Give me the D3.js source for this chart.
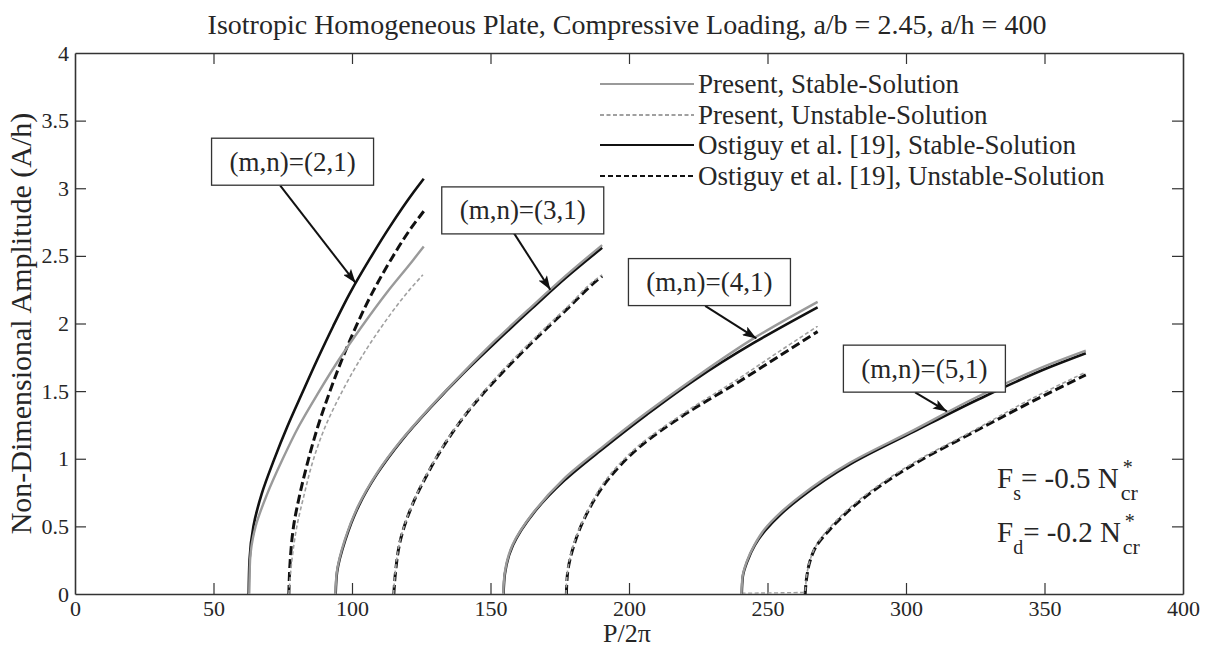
<!DOCTYPE html>
<html><head><meta charset="utf-8">
<script src="https://cdn.jsdelivr.net/npm/d3@7"></script>
<style>
body{margin:0;background:#fff}
svg{display:block}
text{font-family:"Liberation Serif","Times New Roman",serif;fill:#262626}
</style>
</head><body>
<svg id="chart" width="1211" height="650"></svg>
<script>
// ---------------- data ----------------
const titleText = "Isotropic Homogeneous Plate, Compressive Loading, a/b = 2.45, a/h = 400";
const xLabelText = "P/2\u03c0";
const yLabelText = "Non-Dimensional Amplitude (A/h)";
const xTicks = [0, 50, 100, 150, 200, 250, 300, 350, 400];
const yTicks = [0, 0.5, 1, 1.5, 2, 2.5, 3, 3.5, 4];
const yTickLabels = ["0", "0.5", "1", "1.5", "2", "2.5", "3", "3.5", "4"];
const legendNames = ["Present, Stable-Solution", "Present, Unstable-Solution",
  "Ostiguy et al. [19], Stable-Solution", "Ostiguy et al. [19], Unstable-Solution"];

// [P/2pi, A/h] pairs
// mode (2,1)
const presentStable21 = [[62.9,0],[63.2,0.25],[65.2,0.50],[69.4,0.74],[74.8,0.99],[80.8,1.24],[87.6,1.48],[95.2,1.73],[103.6,1.98],[112.6,2.23],[122.1,2.47],[125.9,2.57]];
const presentUnstable21 = [[77.2,0],[78.3,0.25],[80.1,0.50],[82.8,0.74],[86.0,0.99],[90.4,1.24],[96.0,1.48],[102.8,1.73],[110.8,1.98],[120.0,2.23],[125.6,2.36]];
const ostiguyStable21 = [[62.7,0],[63.0,0.25],[64.4,0.50],[67.4,0.74],[71.8,0.99],[76.7,1.24],[81.9,1.48],[87.4,1.73],[93.2,1.98],[99.4,2.23],[106.2,2.47],[113.8,2.72],[122.2,2.97],[125.9,3.07]];
const ostiguyUnstable21 = [[77.2,0],[77.7,0.25],[78.9,0.50],[81.2,0.74],[84.2,0.99],[87.7,1.24],[91.7,1.48],[96.3,1.73],[101.5,1.98],[107.4,2.23],[114.0,2.47],[121.5,2.71],[125.9,2.83]];
// mode (3,1)
const presentStable31 = [[94.0,0],[94.5,0.16],[97.4,0.40],[102.2,0.65],[108.9,0.89],[117.9,1.14],[128.2,1.38],[139.8,1.63],[152.0,1.88],[164.6,2.12],[177.0,2.35],[190.3,2.58]];
const presentUnstable31 = [[115.0,0],[115.6,0.16],[117.4,0.40],[121.5,0.65],[127.1,0.89],[134.3,1.14],[142.9,1.38],[153.3,1.63],[165.3,1.88],[177.6,2.12],[188.3,2.33],[190.3,2.36]];
const ostiguyStable31 = [[94.1,0],[94.6,0.16],[97.6,0.40],[102.4,0.65],[109.1,0.89],[118.1,1.14],[128.4,1.38],[140.1,1.63],[152.3,1.87],[164.9,2.11],[177.3,2.34],[190.3,2.56]];
const ostiguyUnstable31 = [[115.1,0],[115.7,0.16],[117.5,0.40],[121.6,0.65],[127.3,0.89],[134.5,1.14],[143.1,1.38],[153.5,1.62],[165.5,1.87],[177.8,2.11],[188.5,2.32],[190.3,2.35]];
// mode (4,1)
const presentStable41 = [[154.6,0],[155.1,0.15],[157.9,0.36],[165.4,0.60],[176.4,0.85],[190.6,1.09],[206.3,1.34],[223.2,1.59],[245.0,1.89],[268.1,2.16]];
const presentUnstable41 = [[177.3,0],[177.7,0.15],[179.9,0.36],[184.7,0.60],[191.9,0.85],[203.1,1.09],[220.0,1.34],[239.4,1.59],[254.0,1.79],[268.1,1.98]];
const ostiguyStable41 = [[154.7,0],[155.2,0.15],[158.1,0.36],[165.6,0.60],[176.7,0.84],[190.9,1.08],[206.6,1.33],[223.5,1.58],[245.3,1.86],[268.1,2.12]];
const ostiguyUnstable41 = [[177.4,0],[177.8,0.15],[180.1,0.36],[184.9,0.60],[192.2,0.84],[203.4,1.08],[220.3,1.33],[239.7,1.57],[254.3,1.76],[268.1,1.94]];
// mode (5,1)
const presentStable51 = [[240.6,0],[241.0,0.13],[242.5,0.24],[245.2,0.36],[249.0,0.48],[254.6,0.60],[261.6,0.72],[279.7,0.97],[302.6,1.21],[326.0,1.46],[352.0,1.70],[364.9,1.80]];
const presentUnstable51 = [[240.6,0.005],[263.5,0.012],[264.1,0.13],[265.2,0.24],[267.6,0.36],[272.0,0.48],[284.6,0.72],[302.7,0.97],[324.5,1.21],[345.0,1.44],[364.9,1.64]];
const ostiguyStable51 = [[240.7,0],[241.1,0.13],[242.7,0.24],[245.4,0.36],[249.2,0.47],[254.8,0.59],[261.8,0.71],[279.9,0.96],[302.8,1.20],[326.2,1.44],[352.2,1.68],[364.9,1.78]];
const ostiguyUnstable51 = [[263.6,0],[264.2,0.13],[265.3,0.24],[267.8,0.36],[272.2,0.47],[284.8,0.71],[302.9,0.96],[324.7,1.20],[345.2,1.42],[364.9,1.62]];

const presentStable = [presentStable21, presentStable31, presentStable41, presentStable51];
const presentUnstable = [presentUnstable21, presentUnstable31, presentUnstable41, presentUnstable51];
const ostiguyStable = [ostiguyStable21, ostiguyStable31, ostiguyStable41, ostiguyStable51];
const ostiguyUnstable = [ostiguyUnstable21, ostiguyUnstable31, ostiguyUnstable41, ostiguyUnstable51];

// annotations (data coordinates)
const annoLabels = ["(m,n)=(2,1)", "(m,n)=(3,1)", "(m,n)=(4,1)", "(m,n)=(5,1)"];
const annoBoxP = [49.3, 132.4, 199.8, 277.4];
const annoBoxA = [3.37, 3.01, 2.48, 1.84];
const annoTailP = [74.1, 158.4, 227.5, 303.3];
const annoTailA = [3.02, 2.67, 2.13, 1.49];
const annoTipP = [101.3, 171.6, 246.0, 314.8];
const annoTipA = [2.30, 2.25, 1.89, 1.35];

// ---------------- layout ----------------
const m = {left: 75, right: 1183, top: 53, bottom: 594};
const svg = d3.select("#chart");
const x = d3.scaleLinear().domain([0, 400]).range([m.left, m.right]);
const y = d3.scaleLinear().domain([0, 4]).range([m.bottom, m.top]);

const defs = svg.append("defs");
defs.append("clipPath").attr("id", "clip").append("rect")
  .attr("x", m.left).attr("y", m.top).attr("width", m.right - m.left).attr("height", m.bottom - m.top);
defs.append("marker").attr("id", "arrowhead").attr("viewBox", "0 0 14 10")
  .attr("refX", 14).attr("refY", 5).attr("markerWidth", 14).attr("markerHeight", 10)
  .attr("markerUnits", "userSpaceOnUse").attr("orient", "auto")
  .append("path").attr("d", "M0,0 L14,5 L0,10 L3,5 Z").attr("fill", "#111");

// title
svg.append("text").attr("x", 627).attr("y", 34).attr("text-anchor", "middle")
  .style("font-size", "28px").text(titleText);

// axes (MATLAB style box with inward ticks)
const tickLen = 11;
const axisColor = "#333";
const gx = svg.append("g").attr("transform", `translate(0,${m.bottom})`)
  .call(d3.axisBottom(x).tickValues(xTicks).tickSizeInner(-tickLen).tickSizeOuter(0).tickPadding(6).tickFormat(d3.format("d")));
const gxTop = svg.append("g").attr("transform", `translate(0,${m.top})`)
  .call(d3.axisTop(x).tickValues(xTicks).tickSizeInner(-tickLen).tickSizeOuter(0).tickFormat(""));
const gy = svg.append("g").attr("transform", `translate(${m.left},0)`)
  .call(d3.axisLeft(y).tickValues(yTicks).tickSizeInner(-tickLen).tickSizeOuter(0).tickPadding(6).tickFormat((d, i) => yTickLabels[i]));
const gyRight = svg.append("g").attr("transform", `translate(${m.right},0)`)
  .call(d3.axisRight(y).tickValues(yTicks).tickSizeInner(-tickLen).tickSizeOuter(0).tickFormat(""));
[gx, gxTop, gy, gyRight].forEach(g => {
  g.select(".domain").attr("stroke", axisColor).attr("stroke-width", 1.6);
  g.selectAll(".tick line").attr("stroke", axisColor).attr("stroke-width", 1.2);
  g.selectAll(".tick text").style("font-size", "22px").style("font-family", "'Liberation Serif',serif").attr("fill", "#333");
});
gx.selectAll(".tick").filter(d => d === 0 || d === 400).select("line").remove();
gxTop.selectAll(".tick").filter(d => d === 0 || d === 400).select("line").remove();
gy.selectAll(".tick").filter(d => d === 0 || d === 4).select("line").remove();
gyRight.selectAll(".tick").filter(d => d === 0 || d === 4).select("line").remove();
gx.selectAll(".tick text").attr("dy", "0.71em");

// axis labels
svg.append("text").attr("x", 627).attr("y", 642).attr("text-anchor", "middle")
  .style("font-size", "26px").text(xLabelText);
svg.append("text").attr("transform", `translate(31,${(m.top + m.bottom) / 2}) rotate(-90)`)
  .attr("text-anchor", "middle").style("font-size", "30px").text(yLabelText);

// curves (A increases along every branch, so interpolate in the vertical direction)
const line = d3.line().x(d => x(d[0])).y(d => y(d[1])).curve(d3.curveMonotoneY);
const plot = svg.append("g").attr("clip-path", "url(#clip)");
const styles = {
  ps: {stroke: "#9a9a9a", width: 2.4, dash: null},
  pu: {stroke: "#a0a0a0", width: 1.6, dash: "4,2.5"},
  os: {stroke: "#111", width: 2.6, dash: null},
  ou: {stroke: "#111", width: 3, dash: "9,4"}
};
function drawSet(sets, st) {
  plot.selectAll(null).data(sets).enter().append("path")
    .attr("d", line).attr("fill", "none").attr("stroke", st.stroke)
    .attr("stroke-width", st.width).attr("stroke-dasharray", st.dash);
}
drawSet(ostiguyUnstable, styles.ou);
drawSet(presentUnstable, styles.pu);
drawSet(ostiguyStable, styles.os);
drawSet(presentStable, styles.ps);

// legend
const legendStyles = [styles.ps, styles.pu, styles.os, styles.ou];
const legendY = [84, 115, 145, 176];
const lg = svg.append("g");
legendNames.forEach((name, i) => {
  const st = legendStyles[i];
  lg.append("line").attr("x1", 600).attr("x2", 694).attr("y1", legendY[i]).attr("y2", legendY[i])
    .attr("stroke", st.stroke).attr("stroke-width", 2)
    .attr("stroke-dasharray", i === 1 ? "4,2.5" : (i === 3 ? "5,3" : null));
  lg.append("text").attr("x", 698).attr("y", legendY[i] + 9).style("font-size", "27px").text(name);
});

// annotation boxes & arrows
const boxW = 162, boxH = 47;
annoLabels.forEach((lab, i) => {
  const bx = x(annoBoxP[i]), by = y(annoBoxA[i]);
  svg.append("line").attr("x1", x(annoTailP[i])).attr("y1", y(annoTailA[i]))
    .attr("x2", x(annoTipP[i])).attr("y2", y(annoTipA[i]))
    .attr("stroke", "#111").attr("stroke-width", 2).attr("marker-end", "url(#arrowhead)");
  svg.append("rect").attr("x", bx).attr("y", by).attr("width", boxW).attr("height", boxH)
    .attr("fill", "#fff").attr("stroke", "#333").attr("stroke-width", 1.3);
  svg.append("text").attr("x", bx + boxW / 2).attr("y", by + boxH / 2 + 9).attr("text-anchor", "middle")
    .style("font-size", "27px").text(lab);
});

// force text block (separate pieces, no overlap)
function forceText(yBase, sub, val) {
  let cx = 997;
  const big = svg.append("text").attr("x", cx).attr("y", yBase).style("font-size", "29px").text("F");
  cx += big.node().getComputedTextLength();
  const s = svg.append("text").attr("x", cx).attr("y", yBase + 12).style("font-size", "20px").text(sub);
  cx += s.node().getComputedTextLength();
  const main = svg.append("text").attr("x", cx).attr("y", yBase).style("font-size", "29px").text("= " + val + " N");
  cx += main.node().getComputedTextLength() + 2;
  svg.append("text").attr("x", cx + 2).attr("y", yBase - 14).style("font-size", "20px").text("*");
  svg.append("text").attr("x", cx).attr("y", yBase + 12).style("font-size", "22px").text("cr");
}
forceText(488, "s", "-0.5");
forceText(542, "d", "-0.2");
</script>
</body></html>
